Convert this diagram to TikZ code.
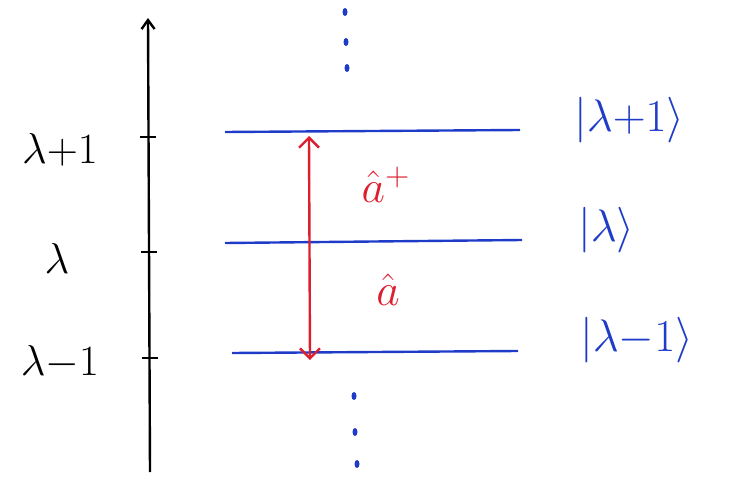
\RequirePackage{fix-cm}
\documentclass[tikz,border=0pt]{standalone}
\usepackage{graphicx}
\usetikzlibrary{arrows.meta,shapes.geometric}
\definecolor{lvlblue}{RGB}{30,60,200}
\definecolor{opred}{RGB}{220,30,45}
\newcommand{\bigtxt}[2]{\scalebox{#1}{\fontsize{24}{26}\selectfont #2}}
\begin{document}
\begin{tikzpicture}[x=1pt,y=-1pt,
  level/.style={draw=lvlblue,line width=2.4pt},
  ketlabel/.style={text=lvlblue,anchor=west,inner sep=0pt},
  axlabel/.style={anchor=center,inner sep=0pt},
  oplabel/.style={text=opred,inner sep=0pt},
  dotmark/.style={ellipse,fill=lvlblue,inner sep=0pt,minimum width=5pt,minimum height=8pt}]
\useasboundingbox (0,0) rectangle (745,487);
% axis
\coordinate (axb) at (150,472);
\coordinate (axt) at (148,18);
\draw[line width=2.4pt,-{Straight Barb[length=9pt,width=13pt]}] (axb) -- (axt);
% ticks
\coordinate (t1) at (148,137);
\coordinate (t0) at (149,252);
\coordinate (tm) at (150,358);
\draw[line width=2.4pt] ([xshift=-8pt]t1) -- ([xshift=8pt]t1);
\draw[line width=2.4pt] ([xshift=-8pt]t0) -- ([xshift=8pt]t0);
\draw[line width=2.4pt] ([xshift=-8pt]tm) -- ([xshift=8pt]tm);
\node[axlabel] (l1) at (60,150) {\bigtxt{1.8}{$\lambda{+}1$}};
\node[axlabel] (l0) at (57,258) {\bigtxt{1.8}{$\lambda$}};
\node[axlabel] (lm) at (60,362) {\bigtxt{1.8}{$\lambda{-}1$}};
% levels
\coordinate (a1) at (225,132); \coordinate (b1) at (520,130);
\coordinate (a0) at (225,243); \coordinate (b0) at (522,240);
\coordinate (am) at (232,353); \coordinate (bm) at (518,351);
\draw[level] (a1) -- (b1);
\draw[level] (a0) -- (b0);
\draw[level] (am) -- (bm);
% kets
\node[ketlabel] (k1) at (574,120) {\bigtxt{1.9}{$|\lambda{+}1\rangle$}};
\node[ketlabel] (k0) at (578,230) {\bigtxt{1.9}{$|\lambda\rangle$}};
\node[ketlabel] (km) at (580,340) {\bigtxt{1.9}{$|\lambda{-}1\rangle$}};
% arrow
\coordinate (ar1) at (309,136);
\coordinate (ar2) at (310,360);
\draw[draw=opred,line width=2.4pt,{Straight Barb[length=10pt,width=20pt]}-{Straight Barb[length=10pt,width=20pt]}] (ar1) -- (ar2);
\node[oplabel] (ad) at (386,185) {\bigtxt{1.9}{$\hat{a}^{+}$}};
\node[oplabel] (an) at (388,290) {\bigtxt{1.9}{$\hat{a}$}};
% dots
\node[dotmark] (d1) at (345,12) {};
\node[dotmark] (d2) at (346,42) {};
\node[dotmark] (d3) at (347,68) {};
\node[dotmark] (d4) at (354,396) {};
\node[dotmark] (d5) at (355,432) {};
\node[dotmark] (d6) at (357,464) {};
\end{tikzpicture}
\end{document}
